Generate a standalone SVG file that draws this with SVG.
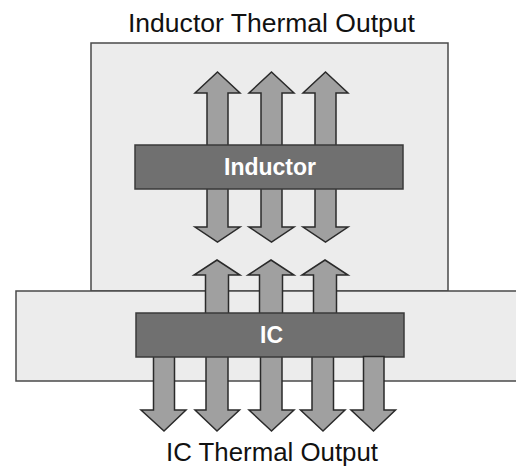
<svg xmlns="http://www.w3.org/2000/svg" width="516" height="466" viewBox="0 0 516 466">
<style>
.box{fill:#ececec;stroke:#4a4a4a;stroke-width:1.5}
.bar{fill:#707070;stroke:#3a3a3a;stroke-width:1.5}
.arr{fill:#a0a0a0;stroke:#2a2a2a;stroke-width:1.5;stroke-linejoin:miter}
.lbl{font-family:"Liberation Sans",Arial,sans-serif;font-size:25px;fill:#111;text-anchor:middle}
.bl{font-family:"Liberation Sans",Arial,sans-serif;font-size:23px;font-weight:bold;fill:#fff;text-anchor:middle}
</style>
<rect width="516" height="466" fill="#fff"/>
<g id="inductor-zone"><rect class="box" x="91" y="43" width="357" height="248"/></g>
<g id="ic-zone"><rect class="box" x="16" y="291" width="510" height="90"/></g>
<g id="connectors">
<polygon class="arr" points="217.5,72 240,93 228,93 228,227 240,227 217.5,242 195,227 207,227 207,93 195,93"/>
<polygon class="arr" points="271.5,72 294,93 282,93 282,227 294,227 271.5,242 249,227 261,227 261,93 249,93"/>
<polygon class="arr" points="325.5,72 348,93 336,93 336,227 348,227 325.5,242 303,227 315,227 315,93 303,93"/>
<polygon class="arr" points="217,260 240,275 228.5,275 228.5,325 205.5,325 205.5,275 194,275"/>
<polygon class="arr" points="271,260 294,275 282.5,275 282.5,325 259.5,325 259.5,275 248,275"/>
<polygon class="arr" points="325,260 348,275 336.5,275 336.5,325 313.5,325 313.5,275 302,275"/>
<polygon class="arr" points="153.5,345 174.5,345 174.5,410 186,410 164,431 141,410 153.5,410"/>
<polygon class="arr" points="206,345 228,345 228,410 239.5,410 217,431 195,410 206,410"/>
<polygon class="arr" points="260.5,345 282,345 282,410 294,410 271.5,431 249,410 260.5,410"/>
<polygon class="arr" points="312,345 333.5,345 333.5,410 345,410 323,431 300.5,410 312,410"/>
</g>
<g id="inductor"><rect class="bar" x="135" y="145" width="268" height="44"/><text class="bl" x="270" y="175">Inductor</text></g>
<g id="ic"><rect class="bar" x="136" y="313" width="268" height="44"/><text class="bl" x="271.5" y="343">IC</text></g>
<g id="connectors-top"><polygon class="arr" points="363.5,356.5 384,356.5 384,410 395.5,410 373.5,431 351,410 363.5,410"/></g>
<g id="title-inductor"><text class="lbl" x="271.5" y="32" textLength="287" lengthAdjust="spacingAndGlyphs">Inductor Thermal Output</text></g>
<g id="title-ic"><text class="lbl" x="272" y="461" textLength="212" lengthAdjust="spacingAndGlyphs">IC Thermal Output</text></g>
</svg>
